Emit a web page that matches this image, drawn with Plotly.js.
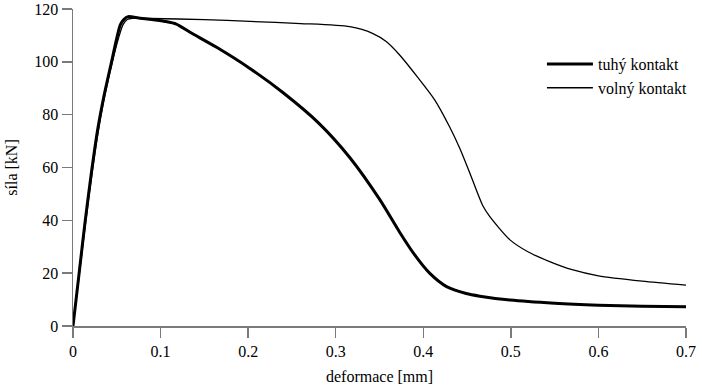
<!DOCTYPE html>
<html>
<head>
<meta charset="utf-8">
<script src="https://cdn.plot.ly/plotly-3.0.1.min.js"></script>
<style>html,body{margin:0;padding:0;background:#fff;}#chart{width:702px;height:390px;}</style>
</head>
<body>
<div id="chart"></div>
<script>
// tuhý kontakt (thick line)
const tuhyX = [0, 0.007, 0.014, 0.021, 0.028, 0.035, 0.044, 0.050, 0.054, 0.058, 0.063, 0.075, 0.088, 0.105, 0.118, 0.1336, 0.164, 0.202, 0.240, 0.280, 0.316, 0.350, 0.373, 0.39, 0.4075, 0.4266, 0.449, 0.4646, 0.499, 0.55, 0.6, 0.65, 0.7];
const tuhyY = [0, 20, 40, 58, 74, 86.5, 100, 109, 114, 116, 117.1, 116.6, 116.1, 115.3, 114.3, 111.2, 105.5, 97.5, 88.3, 77, 63.8, 48, 35.5, 27, 19.9, 14.9, 12.3, 11.3, 9.8, 8.6, 7.9, 7.5, 7.3];
// volný kontakt (thin line)
const volnyX = [0, 0.007, 0.014, 0.021, 0.028, 0.035, 0.045, 0.052, 0.057, 0.062, 0.068, 0.088, 0.15, 0.202, 0.26, 0.316, 0.342, 0.358, 0.373, 0.393, 0.413, 0.430, 0.442, 0.453, 0.468, 0.476, 0.499, 0.52, 0.545, 0.57, 0.6, 0.65, 0.7];
const volnyY = [0, 19, 38, 56, 72, 85, 100, 109, 114, 116, 116.5, 116.4, 116, 115.3, 114.5, 113.3, 110.8, 107.6, 102.6, 94.4, 85.6, 75.4, 67, 58, 45.5, 41.4, 32.6, 28, 24.3, 21.3, 19, 17, 15.5];
const seriesNames = ["tuhý kontakt", "volný kontakt"];
const xTicks = [0, 0.1, 0.2, 0.3, 0.4, 0.5, 0.6, 0.7];
const xTickText = ["0", "0.1", "0.2", "0.3", "0.4", "0.5", "0.6", "0.7"];
const yTicks = [0, 20, 40, 60, 80, 100, 120];

const FONT = '"Liberation Serif", "Times New Roman", serif';

const traces = [
  {x: tuhyX, y: tuhyY, name: seriesNames[0], mode: 'lines', line: {color: '#000', width: 3, shape: 'spline', smoothing: 0.7}},
  {x: volnyX, y: volnyY, name: seriesNames[1], mode: 'lines', line: {color: '#000', width: 1.3, shape: 'spline', smoothing: 0.7}}
];

const axisCommon = {
  showgrid: false, zeroline: false, showline: true,
  linecolor: '#7a7a7a', linewidth: 1.5,
  ticks: 'outside', ticklen: 10, tickwidth: 1.5, tickcolor: '#7a7a7a',
  tickfont: {family: FONT, size: 16, color: '#000'},
  fixedrange: true
};

const layout = {
  width: 702, height: 390,
  margin: {l: 73, r: 16, t: 9, b: 64},
  paper_bgcolor: '#fff', plot_bgcolor: '#fff',
  font: {family: FONT, size: 16, color: '#000'},
  showlegend: true,
  legend: {x: 0.765, y: 0.88, xanchor: 'left', yanchor: 'top', bgcolor: 'rgba(0,0,0,0)',
           itemwidth: 46,
           font: {family: FONT, size: 16, color: '#000'}, tracegroupgap: 0},
  xaxis: Object.assign({}, axisCommon, {
    range: [0, 0.7], tickvals: xTicks, ticktext: xTickText,
    title: {text: 'deformace [mm]', font: {family: FONT, size: 16, color: '#000'}, standoff: 12}
  }),
  yaxis: Object.assign({}, axisCommon, {
    range: [0, 120], tickvals: yTicks,
    title: {text: 'síla [kN]', font: {family: FONT, size: 16, color: '#000'}, standoff: 12}
  })
};

Plotly.newPlot('chart', traces, layout, {displayModeBar: false, staticPlot: true});
</script>
</body>
</html>
